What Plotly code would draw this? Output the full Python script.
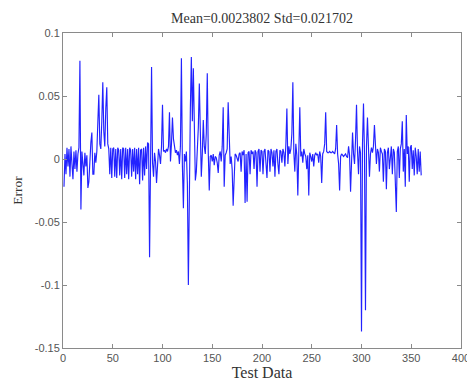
import plotly.graph_objects as go

test_index = list(range(1, 361))
errors = [
    -0.022, 0.004, -0.012, 0.009, -0.006, 0.008, -0.014, 0.010, -0.004, -0.016,
    0.006, -0.008, 0.007, -0.010, 0.004, 0.009, 0.078, -0.040, 0.006, -0.002,
    -0.013, 0.005, -0.006, 0.003, -0.023, -0.018, 0.004, 0.013, 0.021, -0.012,
    -0.012, 0.005, -0.003, 0.006, 0.029, 0.051, 0.012, 0.008, 0.030, 0.061,
    0.022, 0.010, 0.040, 0.057, 0.012, 0.008, -0.012, 0.009, -0.015, 0.008,
    0.009, -0.014, 0.008, -0.015, 0.009, 0.007, -0.013, 0.008, -0.016, 0.009,
    0.008, -0.015, 0.009, -0.012, 0.008, -0.016, 0.009, 0.007, -0.014, 0.008,
    -0.010, 0.009, -0.016, 0.008, -0.012, 0.009, -0.020, 0.007, 0.008, -0.017,
    0.009, -0.013, 0.010, -0.008, 0.013, 0.012, -0.078, 0.010, 0.073, -0.003,
    -0.014, 0.005, -0.002, -0.019, 0.002, 0.008, 0.003, -0.004, 0.010, 0.043,
    0.006, 0.007, 0.005, 0.008, 0.006, 0.010, 0.037, -0.002, 0.012, 0.033,
    0.016, 0.008, 0.005, 0.007, 0.003, 0.006, -0.004, 0.010, 0.080, -0.006,
    -0.039, 0.004, -0.002, 0.006, -0.020, -0.100, 0.010, 0.040, 0.081, 0.030,
    0.072, 0.010, -0.017, -0.010, 0.008, 0.025, 0.060, 0.010, -0.014, 0.004,
    0.031, 0.010, 0.004, 0.020, 0.068, 0.005, -0.025, 0.002, 0.003, -0.002,
    0.004, -0.005, 0.002, 0.001, -0.003, -0.011, 0.003, 0.006, -0.002, 0.010,
    0.041, -0.022, 0.003, 0.005, 0.008, 0.045, 0.006, -0.004, 0.002, -0.008,
    -0.037, -0.005, 0.004, 0.003, 0.001, -0.002, 0.004, 0.005, -0.010, 0.006,
    0.003, 0.007, -0.035, 0.004, -0.034, 0.005, 0.006, -0.012, 0.007, 0.004,
    0.006, -0.008, 0.007, 0.005, -0.022, 0.006, 0.008, -0.010, 0.007, 0.006,
    -0.012, 0.006, 0.008, -0.008, -0.015, 0.007, 0.006, -0.010, 0.008, 0.005,
    -0.006, 0.007, -0.014, 0.006, 0.008, -0.004, -0.012, 0.007, 0.006, -0.003,
    0.008, 0.005, -0.006, 0.012, 0.040, -0.004, 0.010, 0.004, 0.008, 0.020,
    0.061, 0.005, -0.010, 0.012, 0.003, -0.029, 0.010, 0.041, 0.002, 0.006,
    -0.003, 0.008, 0.004, 0.002, -0.008, 0.003, -0.029, 0.005, 0.002, -0.002,
    0.004, -0.006, 0.003, 0.005, 0.003, 0.004, -0.003, 0.006, 0.002, -0.019,
    0.004, 0.006, 0.012, 0.037, 0.006, 0.005, 0.005, 0.006, 0.005, 0.005,
    0.006, 0.005, 0.004, 0.008, 0.027, 0.004, -0.004, -0.025, 0.002, 0.004,
    0.003, 0.002, 0.003, 0.004, 0.002, 0.001, 0.010, 0.003, -0.026, 0.005,
    0.021, 0.004, -0.004, 0.015, 0.043, 0.006, -0.012, 0.010, 0.005, -0.137,
    0.012, 0.044, 0.004, -0.120, 0.010, 0.033, 0.006, -0.014, 0.004, 0.009,
    0.005, 0.010, 0.027, 0.004, -0.004, 0.008, 0.005, -0.010, 0.009, 0.006,
    0.004, -0.018, 0.008, 0.006, -0.024, 0.005, 0.009, -0.008, 0.006, 0.010,
    -0.012, 0.008, 0.005, -0.020, -0.042, 0.006, 0.010, -0.015, 0.008, 0.012,
    0.030, -0.010, 0.008, -0.022, 0.035, 0.004, 0.010, -0.018, 0.009, 0.011,
    -0.008, 0.007, -0.013, 0.009, 0.002, -0.012, 0.008, -0.010, 0.006, -0.013,
]

title_text = "Mean=0.0023802 Std=0.021702"
x_ticks = [0, 50, 100, 150, 200, 250, 300, 350, 400]
y_ticks = [-0.15, -0.1, -0.05, 0, 0.05, 0.1]
y_tick_labels = ["-0.15", "-0.1", "-0.05", "0", "0.05", "0.1"]

SERIF = "Liberation Serif, Times New Roman, serif"
SANS = "Liberation Sans, Arial, sans-serif"

fig = go.Figure()
fig.add_trace(go.Scatter(
    x=test_index, y=errors, mode="lines",
    line=dict(color="#2222ff", width=1.15),
    showlegend=False, hoverinfo="skip",
))

axis_common = dict(
    showgrid=False, zeroline=False, showline=True, linecolor="#8a8a8a",
    linewidth=1, mirror="ticks", ticks="inside", ticklen=4,
    tickcolor="#8a8a8a", automargin=False, ticklabeloverflow="allow",
    tickfont=dict(family=SANS, size=11, color="#555555"),
)

fig.update_layout(
    width=467, height=381,
    margin=dict(l=63, r=6, t=33, b=33),
    paper_bgcolor="white", plot_bgcolor="white",
    title=dict(
        text=title_text, x=262 / 467, xanchor="center",
        y=1 - 18 / 381, yanchor="middle",
        font=dict(family=SERIF, size=14, color="#333333"),
    ),
    xaxis=dict(
        range=[0, 400], tickvals=x_ticks, **axis_common,
        title=dict(text="Test Data", standoff=0,
                   font=dict(family=SERIF, size=16, color="#333333")),
    ),
    yaxis=dict(
        range=[-0.15, 0.1], tickvals=y_ticks, ticktext=y_tick_labels, **axis_common,
        title=dict(text="Error", standoff=8,
                   font=dict(family=SERIF, size=13.5, color="#333333")),
    ),
)

fig.write_html("out.html", config={"displayModeBar": False},
               post_script="document.body.style.margin='0';")
